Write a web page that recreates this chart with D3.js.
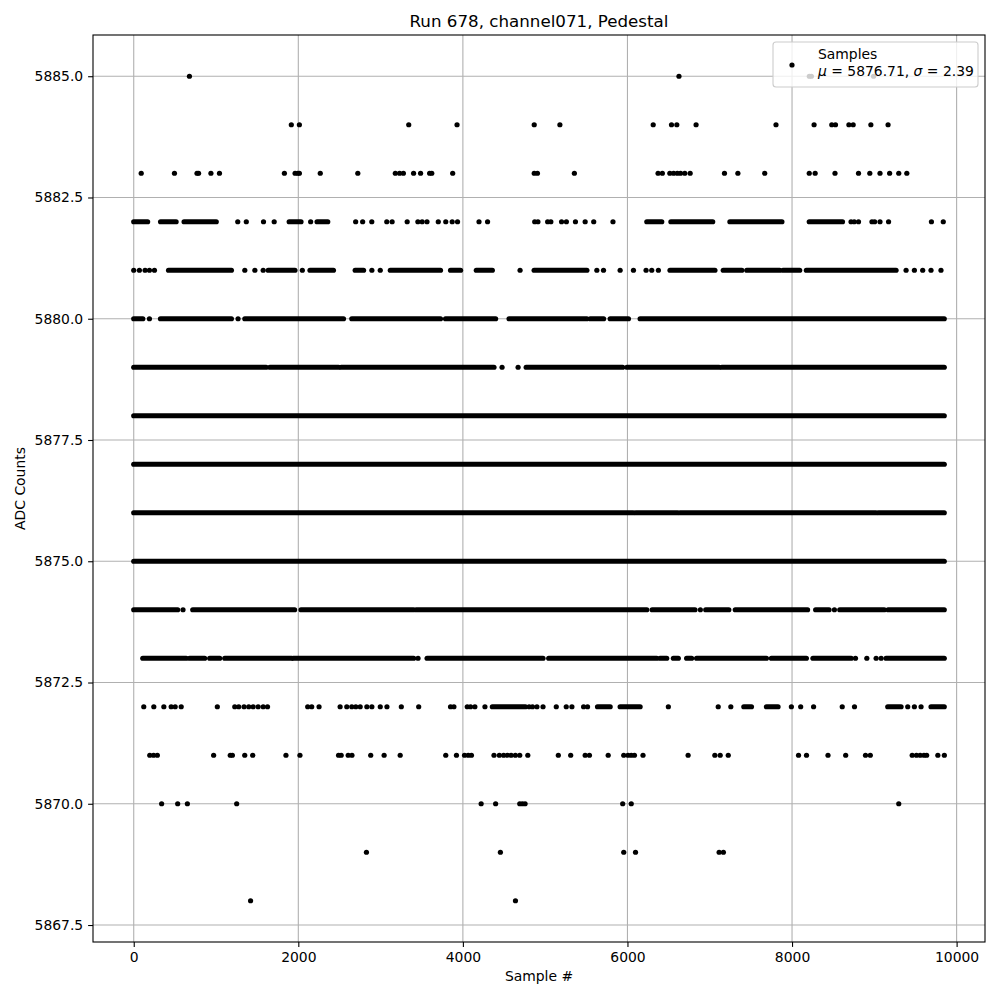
<!DOCTYPE html>
<html>
<head>
<meta charset="utf-8">
<script src="https://cdn.jsdelivr.net/npm/d3@7"></script>
<style>
  body { margin: 0; background: #fff; }
  svg { font-family: "DejaVu Sans", sans-serif; }
</style>
</head>
<body>
<div id="chart"></div>
<script>
// ADC level -> sample numbers where it was seen. A plain number is one sample,
// a pair [a, b] is a stretch where that level shows up almost every sample.
const lvl5885 = [677, 6626, 8210, 8235, 8991]
const lvl5884 = [1915, 2013, 3342, 3929, 4867, 5179, 6313, 6535, 6600, 6834, 7805, 8268, 8483, 8528, 8691, 8743, 8958, 9167]
const lvl5883 = [91, 495, 769, 788, 938, 1042, 1831, 1961, 1994, 2013, 2267, 2723, 3179, 3231, 3277, 3401, 3486, 3596, 3622, 3876,
  4867, 4906, 5355, 6372, 6424, 6515, 6561, 6606, 6645, 6697, 6762, 7179, 7342, 7668, 8209, 8281, 8522, 8808, 8945, 9069, 9186, 9297, 9395]
const lvl5882 = [[0, 169], [326, 515], [612, 1003], 1264, 1368, 1577, 1707, [1889, 2033], 2150, [2228, 2358], 2697, 2782, 2893, 3075, 3140,
  3323, 3453, 3505, 3564, 3701, 3792, 3870, 3935, 4196, 4300, 4873, 4912, 5030, 5069, 5199, 5258, 5368, 5486, 5590, 5824,
  [6235, 6417], [6528, 7036], [7245, 7877], [8209, 8613], 8717, 8756, 8808, 8971, 9004, 9069, 9173, 9694, 9838]
const lvl5881 = [0, 69, 138, 191, 252, [423, 1187], 1350, 1472, 1573, [1634, 1959], 2049, [2142, 2427], [2691, 2793], 2894, 2996,
  [3118, 3728], [3850, 3972], [4163, 4358], 4695, [4866, 5507], 5628, 5709, 5911, 6073, 6226, 6295, 6376, [6517, 7063],
  [7164, 7390], [7450, 7850], [7890, 8093], [8174, 9264], 9386, 9487, 9588, 9689, 9810]
const lvl5880 = [[0, 110], 191, [325, 1187], 1268, [1350, 2549], [2650, 3728], [3789, 4398], [4561, 5507], [5548, 5710], [5790, 6012], [6154, 9850]]
const lvl5879 = [[0, 1609], [1655, 2489], [2521, 4378], 4476, 4671, [4769, 5942], [5994, 7114], [7147, 9850]]
const lvl5878 = [[0, 9850]]
const lvl5877 = [[0, 9850]]
const lvl5876 = [[0, 6070], [6100, 6610], [6640, 9020], [9050, 9850]]
const lvl5875 = [[0, 9850]]
const lvl5874 = [[0, 534], 599, [717, 1955], [2033, 3401], [3433, 6235], [6300, 6821], 6886, [6951, 7232], [7310, 8189], [8287, 8450], 8515, [8580, 9121], [9167, 9850]]
const lvl5873 = [[110, 638], [679, 862], [923, 1045], [1106, 1919], [1939, 3402], 3455, [3565, 4974], [5043, 6356], [6396, 6477], [6558, 6618],
  [6719, 6780], [6840, 7689], [7749, 8174], [8254, 8719], 8771, 8909, 9022, 9083, [9143, 9850]]
const lvl5872 = [122, 244, 366, 455, 504, 577, 1016, 1228, 1276, 1341, 1398, 1451, 1512, 1573, 1626, 2114, 2163, 2252, 2508, 2589, 2650, 2699,
  2752, 2833, 2894, 2996, 3077, 3252, 3463, 3850, 3891, 4053, 4093, 4146, 4268, [4358, 4760], 4805, 4846, 4900, 4974, 5135, 5256, 5325,
  5467, 5515, [5636, 5790], [5911, 6154], 6497, 7103, 7256, [7414, 7507], [7689, 7830], 7992, 8105, 8262, 8610, 8759, [9163, 9325],
  9406, 9487, 9568, [9689, 9850]]
const lvl5871 = [195, 241, 287, 971, 1173, 1199, 1349, 1446, 1850, 2020, 2489, 2521, 2606, 2652, 2880, 3043, 3238, 3792, 3922, 4020, 4065,
  4104, 4378, 4443, 4495, 4541, 4586, 4638, 4691, 4789, 5160, 5310, 5486, 5538, 5766, 5955, 6007, 6046, 6085, 6189, 6737, 7062, 7127,
  7225, 8079, 8176, 8437, 8652, 8893, 8951, 9460, 9512, 9557, 9603, 9636, 9772, 9851]
const lvl5870 = [339, 534, 652, 1251, 4222, 4398, 4691, 4723, 4756, 5942, 6046, 9297]
const lvl5869 = [2828, 4456, 5955, 6098, 7114, 7166]
const lvl5868 = [1420, 4639]

const levels = [5885, 5884, 5883, 5882, 5881, 5880, 5879, 5878, 5877, 5876, 5875, 5874, 5873, 5872, 5871, 5870, 5869, 5868]
const samplesAt = [lvl5885, lvl5884, lvl5883, lvl5882, lvl5881, lvl5880, lvl5879, lvl5878, lvl5877,
  lvl5876, lvl5875, lvl5874, lvl5873, lvl5872, lvl5871, lvl5870, lvl5869, lvl5868]

const xTicks = [0, 2000, 4000, 6000, 8000, 10000]
const yTicks = [5867.5, 5870, 5872.5, 5875, 5877.5, 5880, 5882.5, 5885]

const titleText = "Run 678, channel071, Pedestal"
const legendName = "Samples"
const meanVal = 5876.71, sigmaVal = 2.39

const width = 1000
const height = 1000
const margin = { top: 35, right: 15, bottom: 58, left: 93 }
const dotR = 2.6

let svg = d3.select("#chart").append("svg")
  .attr("width", width)
  .attr("height", height)

let x = d3.scaleLinear().domain([-495, 10345]).range([margin.left, width - margin.right])
let y = d3.scaleLinear().domain([5867.15, 5885.85]).range([height - margin.bottom, margin.top])

// grid
let grid = svg.append("g")
grid.selectAll("line.gx").data(xTicks).enter().append("line")
  .attr("x1", d => x(d)).attr("x2", d => x(d))
  .attr("y1", margin.top).attr("y2", height - margin.bottom)
  .style("stroke", "#b0b0b0").style("stroke-width", 1.1)
grid.selectAll("line.gy").data(yTicks).enter().append("line")
  .attr("x1", margin.left).attr("x2", width - margin.right)
  .attr("y1", d => y(d)).attr("y2", d => y(d))
  .style("stroke", "#b0b0b0").style("stroke-width", 1.1)

// the samples
let rows = levels.map((lv, i) => ({ level: lv, items: samplesAt[i] }))
let plot = svg.append("g")
rows.forEach(row => {
  let runs = row.items.filter(d => Array.isArray(d))
  let singles = row.items.filter(d => !Array.isArray(d))
  plot.selectAll(null).data(runs).enter().append("line")
    .attr("x1", d => x(d[0])).attr("x2", d => x(d[1]))
    .attr("y1", y(row.level)).attr("y2", y(row.level))
    .style("stroke", "#000").style("stroke-width", dotR * 2)
    .style("stroke-linecap", "round")
  plot.selectAll(null).data(singles).enter().append("circle")
    .attr("cx", d => x(d)).attr("cy", y(row.level)).attr("r", dotR)
    .style("fill", "#000")
})

// axes
let xAxis = svg.append("g")
  .attr("transform", `translate(0,${height - margin.bottom})`)
  .call(d3.axisBottom(x).tickValues(xTicks).tickFormat(d3.format("d")).tickSize(4.9).tickPadding(4.9))
let yAxis = svg.append("g")
  .attr("transform", `translate(${margin.left},0)`)
  .call(d3.axisLeft(y).tickValues(yTicks).tickFormat(d3.format(".1f")).tickSize(4.9).tickPadding(4.9))
svg.selectAll(".domain").remove()
svg.selectAll(".tick text").style("font-size", "13.9px").style("font-family", "DejaVu Sans").style("fill", "#000")
svg.selectAll(".tick line").style("stroke", "#000").style("stroke-width", 1.1)

// frame
svg.append("rect")
  .attr("x", margin.left).attr("y", margin.top)
  .attr("width", width - margin.left - margin.right)
  .attr("height", height - margin.top - margin.bottom)
  .style("fill", "none").style("stroke", "#000").style("stroke-width", 1.1)

// labels
svg.append("text")
  .attr("x", (margin.left + width - margin.right) / 2).attr("y", 27)
  .attr("text-anchor", "middle").style("font-size", "16.7px")
  .text(titleText)
svg.append("text")
  .attr("x", (margin.left + width - margin.right) / 2).attr("y", 981)
  .attr("text-anchor", "middle").style("font-size", "13.9px")
  .text("Sample #")
svg.append("text")
  .attr("transform", `translate(25,${(margin.top + height - margin.bottom) / 2}) rotate(-90)`)
  .attr("text-anchor", "middle").style("font-size", "13.9px")
  .text("ADC Counts")

// legend
let lg = svg.append("g")
lg.append("rect")
  .attr("x", 773).attr("y", 42).attr("width", 205).attr("height", 45).attr("rx", 3)
  .style("fill", "#fff").style("fill-opacity", 0.8)
  .style("stroke", "#cccccc").style("stroke-width", 1.1)
lg.append("circle").attr("cx", 792).attr("cy", 65).attr("r", dotR).style("fill", "#000")
lg.append("text").attr("x", 818).attr("y", 59).style("font-size", "13.9px").text(legendName)
let l2 = lg.append("text").attr("x", 818).attr("y", 76).style("font-size", "13.9px")
l2.append("tspan").style("font-style", "italic").text("\u03bc")
l2.append("tspan").text(` = ${meanVal}, `)
l2.append("tspan").style("font-style", "italic").text("\u03c3")
l2.append("tspan").text(` = ${sigmaVal}`)
</script>
</body>
</html>
